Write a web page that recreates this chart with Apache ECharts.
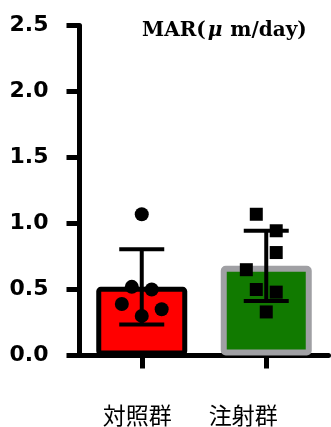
<!DOCTYPE html>
<html>
<head>
<meta charset="utf-8">
<script src="https://cdn.jsdelivr.net/npm/echarts@6/dist/echarts.min.js"></script>
<style>
html,body{margin:0;padding:0;background:#fff;}
#chart{width:331px;height:427px;}
</style>
</head>
<body>
<div id="chart"></div>
<script>
// ---- data ----
var categories = ['対照群', '注射群'];
var yTicks = [0, 0.5, 1.0, 1.5, 2.0, 2.5];
var means = [0.52, 0.679];
var sds = [0.285, 0.266];
var controlValues = [1.07, 0.52, 0.50, 0.39, 0.35, 0.30];
var controlJitter = [0, -0.08, 0.08, -0.16, 0.16, 0];
var injectValues = [1.07, 0.945, 0.78, 0.65, 0.50, 0.48, 0.33];
var injectJitter = [-0.08, 0.08, 0.08, -0.16, -0.08, 0.08, 0];
var titleParts = ['MAR(', 'μ', ' m/day)'];

// ---- build ----
var barStyles = [
  {color: '#ff0000', borderColor: '#000000', borderWidth: 5, borderRadius: 2},
  {color: '#117a00', borderColor: '#a0a0a4', borderWidth: 6, borderRadius: 2}
];
var barData = means.map(function (m, i) {
  return {value: m, itemStyle: barStyles[i]};
});
var errData = means.map(function (m, i) { return [i, m - sds[i], m + sds[i]]; });
var ctrlPts = controlValues.map(function (v, i) { return [0 + controlJitter[i], v]; });
var injPts = injectValues.map(function (v, i) { return [1 + injectJitter[i], v]; });

var chart = echarts.init(document.getElementById('chart'), null, {renderer: 'canvas'});
chart.setOption({
  animation: false,
  title: {
    text: '{t|' + titleParts[0] + '}{mu|' + titleParts[1] + '}{t|' + titleParts[2] + '}',
    left: 137, top: 16,
    textStyle: {
      rich: {
        t: {fontFamily: 'DejaVu Serif', fontSize: 20, fontWeight: 'bold', color: '#000'},
        mu: {fontFamily: 'DejaVu Serif', fontSize: 20, fontStyle: 'italic', color: '#000', padding: [0, 1, 0, 2]}
      }
    }
  },
  grid: {left: 79.5, right: 2.5, top: 25.5, bottom: 71.5, containLabel: false},
  xAxis: [{
    type: 'category',
    data: categories,
    axisLine: {lineStyle: {color: '#000', width: 5}},
    axisTick: {show: true, alignWithLabel: true, length: 13, lineStyle: {color: '#000', width: 5}},
    axisLabel: {
      margin: 48,
      formatter: function (v, i) { return '{' + (i === 0 ? 'a' : 'b') + '|' + v + '}'; },
      rich: {
        a: {fontFamily: 'Noto Sans CJK JP', fontSize: 23, color: '#000', padding: [0, 9, 0, 0]},
        b: {fontFamily: 'Noto Sans CJK JP', fontSize: 23, color: '#000', padding: [0, 46, 0, 0]}
      }
    },
    splitLine: {show: false}
  }, {
    type: 'value', min: -0.5, max: 1.5, show: false
  }],
  yAxis: {
    type: 'value',
    min: yTicks[0], max: yTicks[yTicks.length - 1], interval: 0.5,
    axisLine: {show: true, onZero: false, lineStyle: {color: '#000', width: 5}},
    axisTick: {show: true, length: 13, lineStyle: {color: '#000', width: 5}},
    axisLabel: {
      margin: 31,
      fontFamily: 'DejaVu Sans', fontWeight: 'bold', fontSize: 22, color: '#000',
      padding: [3, 0, 0, 0],
      formatter: function (v) { return v.toFixed(1); }
    },
    splitLine: {show: false}
  },
  series: [{
    type: 'bar',
    xAxisIndex: 0,
    data: barData,
    barWidth: 91,
    z: 2
  }, {
    type: 'custom',
    xAxisIndex: 0,
    data: errData,
    z: 3,
    renderItem: function (params, api) {
      var lo = api.coord([api.value(0), api.value(1)]);
      var hi = api.coord([api.value(0), api.value(2)]);
      var hw = 22.5;
      var st = {stroke: '#000', lineWidth: 4};
      return {type: 'group', children: [
        {type: 'line', shape: {x1: hi[0], y1: hi[1], x2: lo[0], y2: lo[1]}, style: st},
        {type: 'line', shape: {x1: hi[0] - hw, y1: hi[1], x2: hi[0] + hw, y2: hi[1]}, style: st},
        {type: 'line', shape: {x1: lo[0] - hw, y1: lo[1], x2: lo[0] + hw, y2: lo[1]}, style: st}
      ]};
    }
  }, {
    type: 'scatter',
    xAxisIndex: 1,
    data: ctrlPts,
    symbol: 'circle',
    symbolSize: 14,
    itemStyle: {color: '#000', opacity: 1},
    z: 4
  }, {
    type: 'scatter',
    xAxisIndex: 1,
    data: injPts,
    symbol: 'rect',
    symbolSize: 13,
    itemStyle: {color: '#000', opacity: 1},
    z: 4
  }]
});
</script>
</body>
</html>
